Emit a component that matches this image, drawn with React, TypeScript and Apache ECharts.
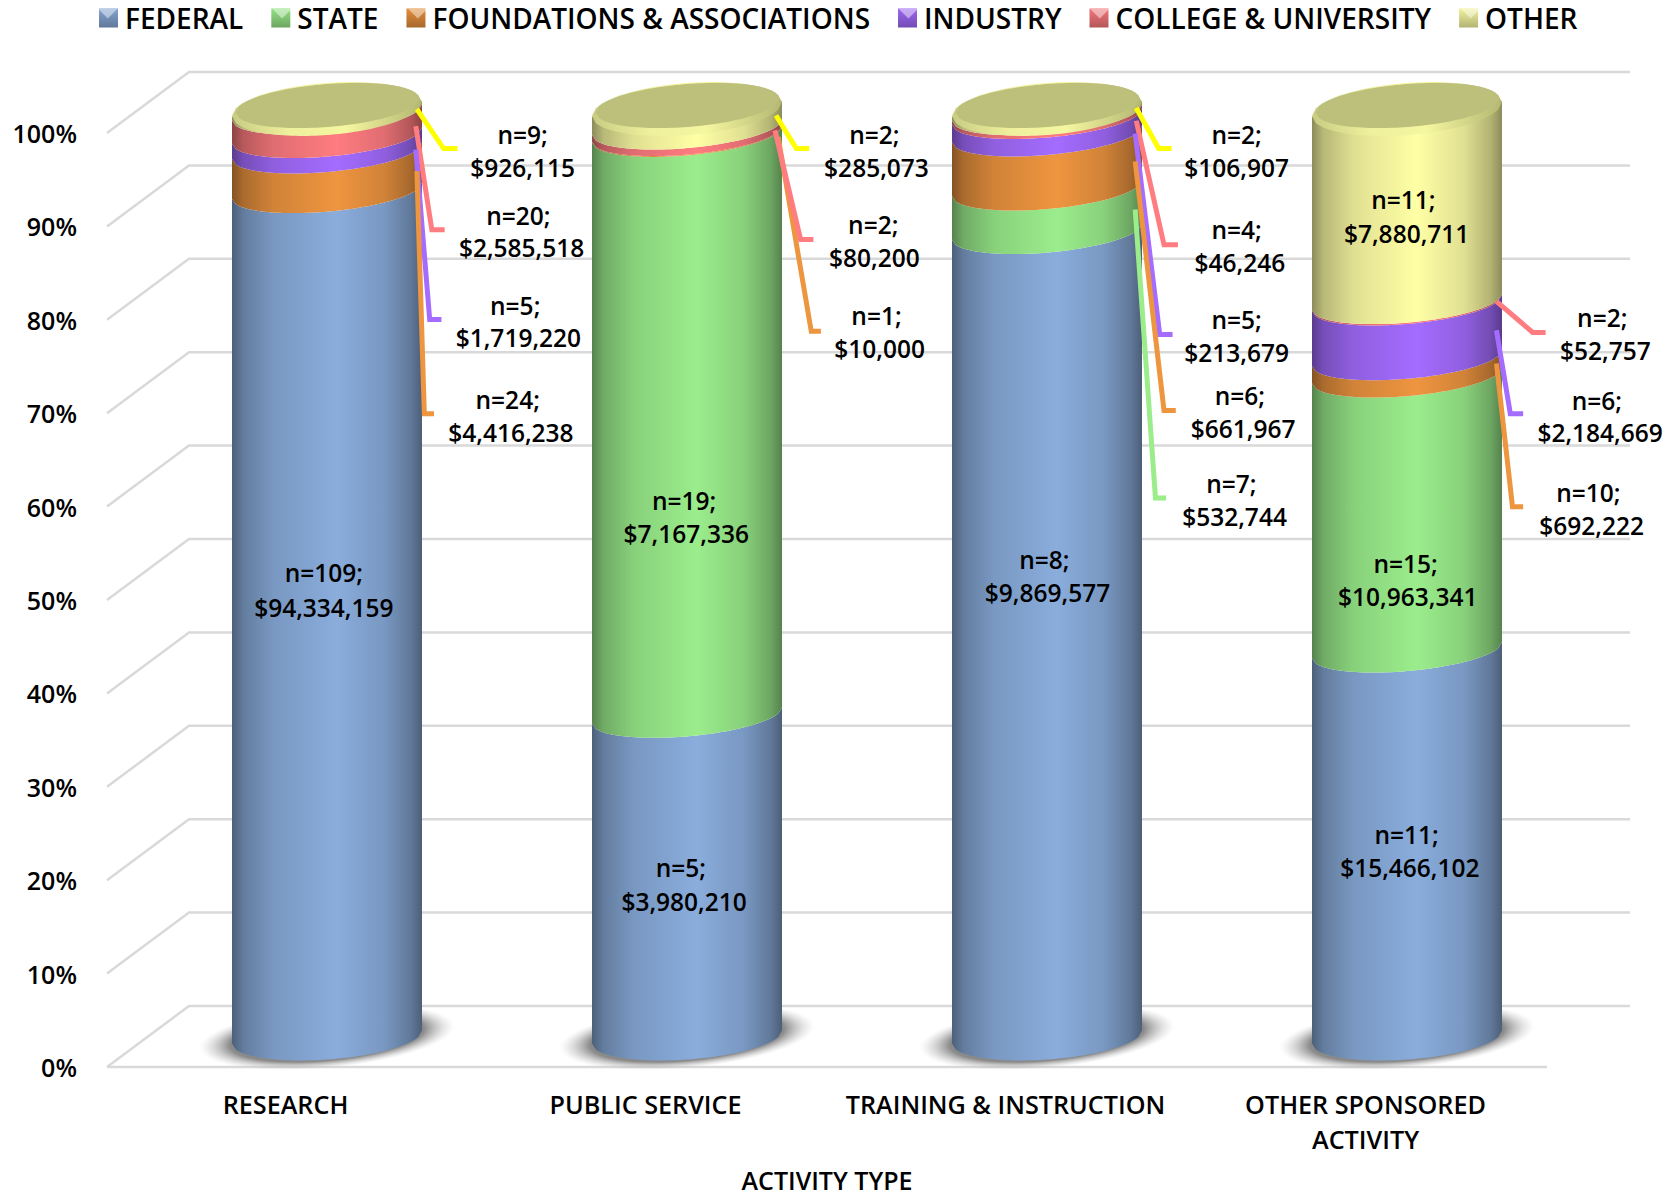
import React, { useEffect, useRef } from "react";
import * as echarts from "echarts";

const CATEGORIES = ["RESEARCH", "PUBLIC SERVICE", "TRAINING & INSTRUCTION", "OTHER SPONSORED\nACTIVITY"];
const SERIES_NAMES = ["FEDERAL", "STATE", "FOUNDATIONS & ASSOCIATIONS", "INDUSTRY", "COLLEGE & UNIVERSITY", "OTHER"];
const FEDERAL = [94334159, 3980210, 9869577, 15466102];
const STATE = [0, 7167336, 532744, 10963341];
const FOUNDATIONS = [4416238, 10000, 661967, 692222];
const INDUSTRY = [1719220, 0, 213679, 2184669];
const COLLEGE = [2585518, 80200, 46246, 52757];
const OTHER = [926115, 285073, 106907, 7880711];
const N_FEDERAL = [109, 5, 8, 11];
const N_STATE = [0, 19, 7, 15];
const N_FOUNDATIONS = [24, 1, 6, 10];
const N_INDUSTRY = [5, 0, 5, 6];
const N_COLLEGE = [20, 2, 4, 2];
const N_OTHER = [9, 2, 2, 11];
const TICKS = [0, 10, 20, 30, 40, 50, 60, 70, 80, 90, 100];

const DOLLARS = [FEDERAL, STATE, FOUNDATIONS, INDUSTRY, COLLEGE, OTHER];
const COUNTS = [N_FEDERAL, N_STATE, N_FOUNDATIONS, N_INDUSTRY, N_COLLEGE, N_OTHER];
const COLORS = ["#8AADDC", "#9BED8C", "#EE9540", "#A46CFF", "#FF7C80", "#FFFFA6"];

const FONT = '"Open Sans", "Noto Sans", sans-serif';
const K = 1676 / 1568;

// label placement in reference pixels (1568-wide view): [series, category, nX, nY, moneyX, moneyY]
const LABEL_LAYOUT = [
  [0, 0, 303, 536, 303, 568], [2, 0, 475, 374, 478, 405], [3, 0, 482, 286, 485, 316], [4, 0, 485, 202, 488, 232], [5, 0, 489, 126, 489, 157],
  [0, 1, 637, 812, 640, 843], [1, 1, 640, 468, 642, 499], [2, 1, 820, 295, 823, 326], [4, 1, 817, 210, 818, 241], [5, 1, 818, 126, 820, 157],
  [0, 2, 977, 523, 980, 554], [1, 2, 1152, 452, 1155, 483], [2, 2, 1160, 370, 1163, 401], [3, 2, 1157, 299, 1157, 330], [4, 2, 1157, 215, 1160, 246], [5, 2, 1157, 126, 1157, 157],
  [0, 3, 1316, 781, 1319, 812], [1, 3, 1315, 527, 1317, 558], [2, 3, 1486, 461, 1489, 492], [3, 3, 1494, 375, 1497, 405], [4, 3, 1499, 297, 1502, 328], [5, 3, 1313, 187, 1316, 218],
];
// leader lines in the same view: [series, x1, y1, x2, y2, x3, y3]
const LEADER_LAYOUT = [
  [5, 390, 102, 415, 139, 428, 139], [4, 389, 118, 404, 215, 416, 215], [3, 389, 140, 402, 299, 413, 299], [2, 390, 160, 397, 387, 406, 387],
  [5, 726, 108, 745, 139, 757, 139], [2, 728, 128, 759, 310, 768, 310], [4, 725, 122, 749, 224, 761, 224],
  [5, 1063, 101, 1084, 139, 1096, 139], [4, 1063, 113, 1089, 229, 1102, 229], [3, 1062, 125, 1085, 313, 1097, 313], [2, 1062, 151, 1089, 384, 1100, 384], [1, 1062, 196, 1081, 466, 1091, 466],
  [4, 1400, 282, 1434, 311, 1446, 311], [3, 1400, 309, 1413, 387, 1425, 387], [2, 1400, 340, 1415, 474, 1425, 474],
];
// left edge of each legend swatch in the same view
const LEGEND_SWATCH_X = [92, 255, 382, 841, 1020, 1367];

const DEPTH_X = 82;
const DEPTH_Y = 61;
const CYL_DX = 40;
const CYL_DY = -24;
const CYL_A = 95;
const TILT = 8;
const BOUNDARY_D = 21;
const BOUNDARY_SHIFT = -5;
const STEPS = 48;

function shade(hex: string, m: number) {
  const v = parseInt(hex.slice(1), 16);
  const c = (s: number) => Math.min(255, Math.round(((v >> s) & 255) * m));
  return `rgb(${c(16)},${c(8)},${c(0)})`;
}

function sideFill(hex: string) {
  return new echarts.graphic.LinearGradient(0, 0, 1, 0, [
    { offset: 0, color: shade(hex, 0.55) },
    { offset: 0.06, color: shade(hex, 0.72) },
    { offset: 0.22, color: shade(hex, 0.88) },
    { offset: 0.55, color: shade(hex, 1) },
    { offset: 0.8, color: shade(hex, 0.88) },
    { offset: 0.94, color: shade(hex, 0.7) },
    { offset: 1, color: shade(hex, 0.55) },
  ]);
}

// left-to-right arc of the front of a ring around the cylinder
function arc(cx: number, cy: number, a: number, d: number, tilt: number) {
  const pts: number[][] = [];
  for (let i = 0; i <= STEPS; i++) {
    const t = -1 + (2 * i) / STEPS;
    pts.push([cx + a * t, cy - tilt * t + d * Math.sqrt(Math.max(0, 1 - t * t))]);
  }
  return pts;
}
function ellipse(cx: number, cy: number, a: number, b: number, tilt: number) {
  const front = arc(cx, cy, a, b, tilt);
  const back = arc(cx, cy, a, -b, tilt).reverse();
  return front.concat(back);
}

function stackRows(seriesIndex: number) {
  return CATEGORIES.map((_, cat) => {
    const total = DOLLARS.reduce((s, arr) => s + arr[cat], 0);
    let before = 0;
    for (let k = 0; k < seriesIndex; k++) before += DOLLARS[k][cat];
    return [cat, (100 * before) / total, (100 * (before + DOLLARS[seriesIndex][cat])) / total];
  });
}

const segmentSeries = SERIES_NAMES.map((name, k) => ({
  type: "custom",
  name,
  silent: true,
  z: 4,
  itemStyle: { color: COLORS[k] },
  encode: { x: 0, y: [1, 2] },
  data: stackRows(k).filter((r) => r[2] > r[1]),
  renderItem: (_: any, api: any) => {
    const cat = api.value(0);
    const lo = api.value(1);
    const hi = api.value(2);
    const base = api.coord([cat, lo]);
    const top = api.coord([cat, hi]);
    const cx = base[0] + CYL_DX;
    const yLo = base[1] + CYL_DY;
    const yHi = top[1] + CYL_DY;
    const lower = lo === 0 ? arc(cx, yLo - 6, CYL_A, 22.5, 6.5) : arc(cx, yLo + BOUNDARY_SHIFT, CYL_A, BOUNDARY_D, TILT);
    const upper = hi >= 99.999 ? arc(cx, yHi, CYL_A, 0, TILT) : arc(cx, yHi + BOUNDARY_SHIFT, CYL_A, BOUNDARY_D, TILT);
    return {
      type: "polygon",
      shape: { points: lower.concat(upper.reverse()) },
      style: { fill: sideFill(COLORS[k]) },
    };
  },
}));

const gridSeries = {
  type: "custom",
  name: "grid",
  silent: true,
  z: 1,
  encode: { y: 0 },
  data: TICKS.map((t) => [t]),
  renderItem: (params: any, api: any) => {
    const v = api.value(0);
    const y = api.coord([0, v])[1];
    const x0 = params.coordSys.x;
    const x1 = x0 + params.coordSys.width;
    const style = { stroke: "#D9D9D9", lineWidth: 2.5, fill: "none" };
    const children: any[] = [
      { type: "polyline", shape: { points: [[x0, y], [x0 + DEPTH_X, y - DEPTH_Y], [x1 + DEPTH_X + 1, y - DEPTH_Y]] }, style },
    ];
    if (v === 0) children.push({ type: "line", shape: { x1: x0, y1: y, x2: x1, y2: y }, style });
    return { type: "group", children };
  },
};

const shadowSeries = {
  type: "custom",
  name: "shadow",
  silent: true,
  z: 2,
  encode: { x: 0 },
  data: CATEGORIES.map((_, i) => [i]),
  renderItem: (_: any, api: any) => {
    const p = api.coord([api.value(0), 0]);
    return {
      type: "ellipse",
      x: p[0] + CYL_DX,
      y: p[1] + CYL_DY - 6,
      rotation: 0.09,
      shape: { cx: 0, cy: 0, rx: 128, ry: 31 },
      style: {
        fill: new echarts.graphic.RadialGradient(0.5, 0.5, 0.5, [
          { offset: 0, color: "rgba(120,120,120,0.95)" },
          { offset: 0.76, color: "rgba(125,125,125,0.9)" },
          { offset: 1, color: "rgba(200,200,200,0)" },
        ]),
      },
    };
  },
};

const capSeries = {
  type: "custom",
  name: "cap",
  silent: true,
  z: 5,
  encode: { x: 0 },
  data: CATEGORIES.map((_, i) => [i]),
  renderItem: (_: any, api: any) => {
    const p = api.coord([api.value(0), 100]);
    const cx = p[0] + CYL_DX;
    const cy = p[1] + CYL_DY;
    return {
      type: "group",
      children: [
        {
          type: "polygon",
          shape: { points: ellipse(cx, cy, CYL_A, 26, 7) },
          style: {
            fill: new echarts.graphic.LinearGradient(0, 0, 1, 0, [
              { offset: 0, color: "#C8CB82" },
              { offset: 0.3, color: "#EEF09C" },
              { offset: 0.6, color: "#F5F6A0" },
              { offset: 1, color: "#B4B772" },
            ]),
          },
        },
        { type: "polygon", shape: { points: ellipse(cx + 0.5, cy - 3.5, CYL_A - 3, 21.5, 7) }, style: { fill: "#BCC07B" } },
      ],
    };
  },
};

const leaderSeries = {
  type: "custom",
  name: "leaders",
  silent: true,
  z: 6,
  encode: { x: 0 },
  data: LEADER_LAYOUT.map((_, i) => [i]),
  renderItem: (_: any, api: any) => {
    const l = LEADER_LAYOUT[api.value(0)];
    return {
      type: "polyline",
      shape: { points: [[l[1] * K, l[2] * K], [l[3] * K, l[4] * K], [l[5] * K, l[6] * K]] },
      style: { stroke: l[0] === 5 ? "#FFFF00" : COLORS[l[0]], lineWidth: 5, fill: "none" },
    };
  },
};

const labelSeries = {
  type: "custom",
  name: "labels",
  silent: true,
  z: 7,
  encode: { x: 0 },
  data: LABEL_LAYOUT.map((_, i) => [i]),
  renderItem: (_: any, api: any) => {
    const l = LABEL_LAYOUT[api.value(0)];
    const textStyle = (text: string, x: number, y: number) => ({
      type: "text",
      style: {
        text,
        x: x * K,
        y: y * K,
        align: "center",
        verticalAlign: "middle",
        fill: "#000",
        font: `600 24.5px ${FONT}`,
      },
    });
    return {
      type: "group",
      children: [
        textStyle(`n=${COUNTS[l[0]][l[1]]};`, l[2], l[3]),
        textStyle(`$${DOLLARS[l[0]][l[1]].toLocaleString("en-US")}`, l[4], l[5]),
      ],
    };
  },
};

const legendBevelSeries = {
  type: "custom",
  name: "legendBevel",
  silent: true,
  z: 8,
  encode: { x: 0 },
  data: LEGEND_SWATCH_X.map((_, i) => [i]),
  renderItem: (_: any, api: any) => {
    const x = LEGEND_SWATCH_X[api.value(0)] * K;
    const y = 9;
    return {
      type: "polygon",
      shape: { points: [[x, y], [x + 19, y], [x + 9.5, y + 9.5]] },
      style: { fill: "rgba(255,255,255,0.45)" },
    };
  },
};

export default function App() {
  const ref = useRef<HTMLDivElement>(null);
  useEffect(() => {
    document.body.style.margin = "0";
    const chart = echarts.init(ref.current!, undefined, { renderer: "svg" });
    chart.setOption({
      animation: false,
      backgroundColor: "#fff",
      legend: {
        left: 94,
        top: -1,
        itemWidth: 19,
        itemHeight: 19,
        itemGap: 28,
        selectedMode: false,
        textStyle: { fontFamily: FONT, fontSize: 28, fontWeight: 600, color: "#000", padding: [0, 0, 0, 2] },
        data: SERIES_NAMES.map((name, k) => ({
          name,
          icon: "rect",
          itemStyle: {
            color: new echarts.graphic.LinearGradient(0, 0, 0, 1, [
              { offset: 0, color: shade(COLORS[k], 0.95) },
              { offset: 1, color: shade(COLORS[k], 0.7) },
            ]),
          },
        })),
      },
      grid: { left: 107, right: 129, top: 133, bottom: 129, outerBoundsMode: "none" },
      xAxis: {
        type: "category",
        data: CATEGORIES,
        name: "ACTIVITY TYPE",
        nameLocation: "middle",
        nameGap: 101,
        nameTextStyle: { fontFamily: FONT, fontSize: 25, fontWeight: 600, color: "#000", lineHeight: 24 },
        axisLine: { show: false },
        axisTick: { show: false },
        axisLabel: { interval: 0, margin: 19, lineHeight: 35, padding: [0, 3, 0, 0], fontFamily: FONT, fontSize: 25.2, fontWeight: 600, color: "#000" },
      },
      yAxis: {
        type: "value",
        min: 0,
        max: 100,
        interval: 10,
        axisLine: { show: false },
        axisTick: { show: false },
        splitLine: { show: false },
        axisLabel: { margin: 30, formatter: "{value}%", fontFamily: FONT, fontSize: 25, fontWeight: 600, color: "#000" },
      },
      series: [gridSeries, shadowSeries, ...segmentSeries, capSeries, leaderSeries, labelSeries, legendBevelSeries],
    });
    return () => chart.dispose();
  }, []);
  return <div ref={ref} style={{ width: 1676, height: 1196 }} />;
}
